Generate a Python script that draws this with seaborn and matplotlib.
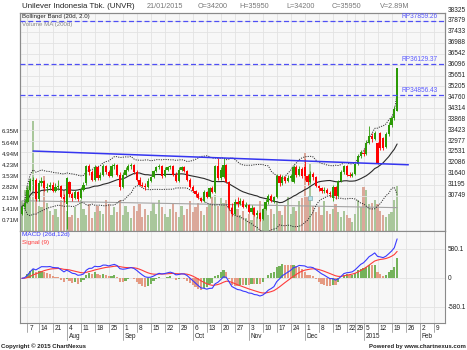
import numpy as np
import pandas as pd
import matplotlib
matplotlib.use("Agg")
import matplotlib.pyplot as plt
import seaborn as sns
from matplotlib.transforms import blended_transform_factory as blend

# ---------------- data ----------------
title = "Unilever Indonesia Tbk. (UNVR)"
start_date = "2014-07-03"
end_date = "2015-02-13"
holidays = ["2014-07-09", "2014-07-28", "2014-07-29", "2014-07-30", "2014-07-31",
            "2014-08-01", "2014-12-25", "2014-12-26", "2014-12-31", "2015-01-01"]

opens = [30000, 30300, 30500, 31000, 31350, 31400, 30600, 31250, 31350, 31050,
         31100, 31200, 30950, 31100, 31150, 30700, 30400, 31300, 30800, 30650,
         30900, 30650, 31000, 31250, 31950, 31700, 31400, 31900, 31450, 31600,
         31950, 31700, 31550, 31950, 32000, 31600, 31100, 31600, 31800, 31950,
         32000, 31700, 31400, 31200, 31150, 31100, 31350, 31500, 31750, 31900,
         31950, 31550, 31800, 31900, 31950, 31600, 31350, 31800, 31900, 31750,
         31400, 31100, 30950, 30800, 30650, 30550, 30900, 30700, 31050, 30900,
         31950, 31450, 31500, 32000, 31300, 30250, 30000, 30500, 30400, 30550,
         30300, 30350, 30100, 30250, 29950, 30050, 29800, 30200, 30500, 30750,
         30550, 30700, 31550, 31250, 31500, 31350, 31450, 31300, 31900, 31600,
         31850, 31900, 31550, 31300, 31650, 31500, 31150, 31050, 30950, 31000,
         30850, 30650, 31100, 30750, 31350, 31700, 31950, 31600, 31550, 31650,
         32050, 32350, 32500, 32450, 32900, 33200, 33050, 32900, 33300, 33100,
         32750, 33250, 33650, 33900, 34200]
highs = [30350, 30600, 31100, 31450, 31500, 31450, 31400, 31500, 31400, 31250,
         31300, 31300, 31250, 31400, 31200, 30800, 31500, 31350, 30900, 31000,
         30950, 31100, 31300, 32000, 32050, 31800, 32000, 31950, 31700, 32050,
         32000, 31800, 32050, 32100, 32050, 31700, 31700, 31900, 32050, 32100,
         32050, 31800, 31500, 31300, 31250, 31450, 31550, 31800, 31950, 32050,
         32000, 31900, 31950, 32000, 32000, 31700, 31900, 31950, 31950, 31800,
         31450, 31200, 31000, 30900, 30700, 31000, 30950, 31100, 31150, 32000,
         32300, 31900, 32300, 32050, 31350, 30450, 30600, 30700, 30650, 30600,
         30500, 30400, 30350, 30300, 30150, 30100, 30250, 30600, 30800, 30800,
         30750, 31650, 31650, 31600, 31550, 31600, 31650, 32000, 32000, 31950,
         31900, 32250, 31650, 31750, 31700, 31550, 31200, 31100, 31100, 31050,
         30950, 31200, 31150, 31400, 31800, 32000, 32000, 31700, 31700, 32100,
         32450, 32600, 32650, 33000, 33600, 33300, 33400, 32950, 33350, 33150,
         33350, 33750, 34000, 34400, 35950]
lows = [29950, 30200, 30450, 30950, 31000, 30550, 30550, 31150, 30950, 30900,
        31000, 30900, 30900, 31000, 30650, 30500, 29400, 30700, 30550, 30600,
        30550, 30600, 30950, 31200, 31600, 31350, 31350, 31400, 31400, 31550,
        31650, 31500, 31500, 31850, 31550, 31000, 31050, 31550, 31750, 31850,
        31650, 31350, 31150, 31100, 31000, 31050, 31300, 31450, 31700, 31850,
        31450, 31500, 31750, 31850, 31550, 31300, 31300, 31750, 31700, 31350,
        31050, 30900, 30700, 30600, 30500, 30500, 30650, 30650, 30850, 30850,
        31400, 31400, 31450, 31250, 30150, 29900, 29950, 30300, 30350, 30250,
        30250, 30050, 30000, 29900, 29850, 29700, 29750, 30150, 30400, 30500,
        30450, 30650, 31150, 31200, 31250, 31300, 31350, 31250, 31500, 31550,
        31450, 31400, 31200, 31250, 31400, 31100, 30950, 30850, 30850, 30800,
        30700, 30550, 30600, 30700, 31300, 31650, 31550, 31500, 31500, 31600,
        32000, 32300, 32350, 32400, 32850, 32950, 33000, 32050, 32600, 32600,
        32700, 33200, 33550, 33850, 34200]
closes = [30300, 30450, 31000, 31350, 31400, 30600, 31250, 31350, 31050, 31100,
          31200, 30950, 31100, 31150, 30700, 30600, 31450, 30800, 30650, 30900,
          30600, 31000, 31200, 31950, 31700, 31400, 31900, 31450, 31600, 31950,
          31700, 31550, 31950, 32000, 31600, 31100, 31600, 31800, 31950, 32000,
          31700, 31400, 31200, 31150, 31100, 31350, 31500, 31750, 31900, 31950,
          31550, 31800, 31900, 31950, 31600, 31350, 31800, 31900, 31750, 31400,
          31100, 30950, 30800, 30650, 30550, 30900, 30700, 31050, 30900, 31950,
          31450, 31800, 32000, 31300, 30250, 30000, 30500, 30400, 30550, 30300,
          30350, 30100, 30250, 29950, 30050, 29800, 30200, 30500, 30750, 30550,
          30700, 31550, 31250, 31500, 31350, 31450, 31550, 31900, 31600, 31850,
          31550, 31550, 31300, 31650, 31500, 31150, 31050, 30950, 31000, 30850,
          30800, 31100, 30750, 31350, 31700, 31950, 31600, 31550, 31650, 32050,
          32350, 32550, 32450, 32900, 33200, 33050, 33300, 32100, 32700, 32700,
          33250, 33650, 33900, 34300, 35950]
volumes_m = [1.9, 2.6, 2.9, 3.3, 7.0, 2.2, 1.6, 1.5, 3.5, 1.8,
             1.3, 1.0, 1.4, 0.9, 2.0, 2.6, 1.3, 0.9, 1.0, 1.5,
             0.8, 2.0, 1.4, 1.0, 1.7, 0.8, 1.2, 1.6, 1.3, 1.1,
             2.0, 1.7, 1.0, 1.5, 1.2, 2.0, 1.0, 1.6, 1.2, 0.8,
             1.6, 1.3, 1.7, 0.9, 1.4, 1.0, 1.3, 1.8, 1.1, 2.0,
             1.5, 1.1, 0.9, 1.4, 1.7, 1.2, 0.9, 1.6, 1.0, 1.4,
             1.9, 1.2, 1.5, 1.8, 1.3, 1.0, 1.5, 1.7, 2.2, 2.3,
             1.6, 2.1, 1.8, 2.0, 1.9, 1.5, 1.2, 1.4, 1.0, 1.3,
             0.8, 1.1, 0.7, 1.5, 0.9, 1.9, 1.2, 1.6, 1.0, 1.4,
             1.1, 1.9, 1.3, 1.0, 1.6, 2.2, 1.1, 1.5, 1.3, 1.9,
             2.1, 5.0, 2.2, 4.3, 1.6, 1.2, 1.5, 1.0, 1.9, 1.3,
             1.1, 1.4, 1.7, 1.2, 0.9, 1.3, 1.0, 0.8, 0.6, 1.1,
             2.0, 1.5, 2.8, 2.6, 1.7, 1.8, 2.0, 1.7, 1.3, 1.0,
             0.9, 1.1, 1.2, 2.0, 2.89]
vol_ma200_m = [1.93, 1.49]
levels = [37859.26, 36129.37, 34856.43]
trend_dates = ["2014-07-10", "2015-01-27"]
trend_prices = [32570, 32010]
marker_date = "2014-12-03"
marker_price = 30650
price_ticks = [38325, 37879, 37433, 36988, 36542, 36096, 35651, 35205, 34760,
               34314, 33868, 33423, 32977, 32531, 32086, 31640, 31195, 30749]
volume_ticks_m = [0.71, 1.41, 2.12, 2.82, 3.53, 4.23, 4.94, 5.64, 6.35]
macd_ticks = [580.1, 0.0, -580.1]

# ---------------- derived ----------------
all_days = pd.bdate_range(start_date, end_date)
all_days = all_days[~all_days.isin(pd.to_datetime(holidays))]
pos = {d: i for i, d in enumerate(all_days)}
n = len(closes)
x = np.arange(n)
o = np.array(opens, float); h = np.array(highs, float)
l = np.array(lows, float); c = np.array(closes, float)
vol = np.array(volumes_m) * 1e6
up = c >= o

cs = pd.Series(c)
mid = cs.rolling(20, min_periods=1).mean()
sd = cs.rolling(20, min_periods=1).std(ddof=0).fillna(0)
upper = mid + 2 * sd
lower = mid - 2 * sd
ema12 = cs.ewm(span=12, adjust=False).mean()
ema26 = cs.ewm(span=26, adjust=False).mean()
macd = ema12 - ema26
signal = macd.ewm(span=9, adjust=False).mean()
hist = macd - signal
hist_up = np.r_[True, np.diff(hist.values) >= 0]

# ---------------- style ----------------
sns.set_theme(style="white")
plt.rcParams["font.family"] = ["Liberation Sans", "DejaVu Sans"]
W, H = 467, 350
GREEN, RED = "#2b9a05", "#ff0000"
VGREEN, VRED = "#a9c79b", "#dba89a"
FACE = "#f7f7f7"
GRID = "#e2e2e2"
SPINE = "#8a8a8a"
fs = 4.7
BW = 0.8

fig = plt.figure(figsize=(W / 100, H / 100), dpi=100)
fig.patch.set_facecolor("white")
L, R = 20.3 / W, 445 / W
ax_v = fig.add_axes([L, 1 - 231 / H, R - L, (231 - 12.7) / H])
ax = ax_v.twinx()
ax_m = fig.add_axes([L, 1 - 323.3 / H, R - L, (323.3 - 231) / H])

xlim = (-0.57, 151.1)
for a in (ax_v, ax, ax_m):
    a.set_xlim(*xlim)
    for s in a.spines.values():
        s.set_color(SPINE)
        s.set_linewidth(0.8)
ax_v.set_facecolor(FACE)
ax_m.set_facecolor(FACE)

# week ticks (Mondays)
mondays = [d for d in all_days if d.weekday() == 0]
tick_x = [pos[d] for d in mondays]
for a in (ax_v, ax_m):
    a.set_xticks(tick_x)
    a.set_xticklabels([])
    a.tick_params(axis="x", length=0)
    a.grid(axis="x", color=GRID, lw=0.6)
    a.set_axisbelow(True)

# ---- volume ----
ax_v.set_ylim(0, 13.93e6)
ax_v.bar(x, vol, width=BW, color=np.where(up, VGREEN, VRED), linewidth=0, zorder=1)
sns.lineplot(x=[0, n - 1], y=np.array(vol_ma200_m) * 1e6, ax=ax_v, color="#a3a3a3", lw=0.8, zorder=2)
ax_v.set_yticks(np.array(volume_ticks_m) * 1e6)
ax_v.set_yticklabels([f"{v:.2f}M" for v in volume_ticks_m])
ax_v.tick_params(axis="y", labelsize=4.4, length=0, pad=1.0, colors="#222222")
ax_v.set_ylabel(""); ax_v.set_xlabel("")

# ---- price ----
ax.set_ylim(29307, 38215)
in_range = [t for t in price_ticks if 29307 < t < 38215]
ax.set_yticks(in_range)
ax.set_yticklabels([])
ax.tick_params(axis="y", length=0)
ax.grid(axis="y", color=GRID, lw=0.6)
ax.set_axisbelow(True)
ty = blend(ax.transAxes, ax.transData)
for t in price_ticks:
    ax.text(1.006, t, str(t), transform=ty, fontsize=fs, ha="left", va="center",
            color="#222222", clip_on=False)

sns.lineplot(x=x, y=upper, ax=ax, color="#333333", lw=0.7, linestyle=(0, (1.2, 1.2)), zorder=3)
sns.lineplot(x=x, y=lower, ax=ax, color="#333333", lw=0.7, linestyle=(0, (1.2, 1.2)), zorder=3)
sns.lineplot(x=x, y=mid, ax=ax, color="#2a2a2a", lw=0.8, zorder=3)

col = np.where(up, GREEN, RED)
ax.vlines(x, l, h, colors=col, lw=0.6, zorder=4)
body = np.maximum(np.abs(c - o), 25)
ax.bar(x, body, bottom=np.minimum(o, c), width=BW, color=col, linewidth=0, zorder=5)

tx = [pos[pd.Timestamp(d)] for d in trend_dates]
sns.lineplot(x=tx, y=trend_prices, ax=ax, color="#3535f0", lw=1.1, zorder=6)

for lv in levels:
    ax.axhline(lv, color="#4f4ff5", lw=0.9, ls=(0, (4, 2.2)), zorder=6)
    ax.annotate(f"RP{lv:.2f}", xy=(0.983, lv), xycoords=ty, xytext=(0, 3.3),
                textcoords="offset points", ha="right", va="center",
                fontsize=fs, color="#5a5aff")

ax.scatter([pos[pd.Timestamp(marker_date)]], [marker_price], marker="s", s=12,
           color="#b4e2ea", edgecolor="#86aab2", linewidth=0.5, zorder=7)
ax.set_ylabel(""); ax.set_xlabel("")

ax.text(0.004, 0.994, "Bollinger Band (20d, 2.0)", transform=ax.transAxes, fontsize=4.4,
        ha="left", va="top", color="#222222")
ax.text(0.004, 0.958, "Volume MA (200d)", transform=ax.transAxes, fontsize=4.4,
        ha="left", va="top", color="#888888")

# ---- MACD ----
ax_m.set_ylim(-900, 946)
ax_m.bar(x, hist * 1.6, width=BW, color=np.where(hist_up, "#74b25a", "#e59a82"),
         linewidth=0, zorder=1)
sns.lineplot(x=x, y=signal, ax=ax_m, color="#ff3b3b", lw=0.8, zorder=3)
sns.lineplot(x=x, y=macd, ax=ax_m, color="#3a3aff", lw=0.8, zorder=4)
ax_m.set_yticks(macd_ticks)
ax_m.set_yticklabels([])
ax_m.tick_params(axis="y", length=0)
ax_m.grid(axis="y", color=GRID, lw=0.6)
tm = blend(ax_m.transAxes, ax_m.transData)
for t in macd_ticks:
    ax_m.text(1.006, t, f"{t:g}" if t != 0 else "0", transform=tm, fontsize=fs,
              ha="left", va="center", color="#222222", clip_on=False)
ax_m.set_ylabel(""); ax_m.set_xlabel("")
ax_m.text(0.004, 0.985, "MACD (26d,12d)", transform=ax_m.transAxes, fontsize=4.6,
          ha="left", va="top", color="#3a3aff")
ax_m.text(0.004, 0.905, "Signal (9)", transform=ax_m.transAxes, fontsize=4.6,
          ha="left", va="top", color="#ff3b3b")

# ---- x labels ----
tb = blend(ax_m.transData, fig.transFigure)
prev_month = None
for d in mondays:
    xi = pos[d]
    new_month = prev_month is not None and d.month != prev_month
    y_end = 1 - (340 if new_month else 332) / H
    ax_m.plot([xi, xi], [1 - 323.3 / H, y_end], transform=tb, color="#9a9a9a",
              lw=0.6, clip_on=False)
    ax_m.text(xi + 0.7, 1 - 329 / H, str(d.day), transform=tb, fontsize=fs,
              ha="left", va="center", color="#222222")
    if new_month:
        lab = str(d.year) if d.month == 1 else d.strftime("%b")
        ax_m.text(xi + 0.7, 1 - 336.7 / H, lab, transform=tb, fontsize=fs,
                  ha="left", va="center", color="#222222")
    prev_month = d.month

# ---- header / footer ----
last = n - 1
fig.text(21.5 / W, 1 - 6.5 / H, title, fontsize=5.7, ha="left", va="center", color="#222222")
info = [(147, all_days[last].strftime("%d/%m/%Y")),
        (198, f"O={opens[last]}"), (239, f"H={highs[last]}"),
        (286, f"L={lows[last]}"), (332, f"C={closes[last]}"),
        (380, f"V={volumes_m[last]:.2f}M")]
for px, s in info:
    fig.text(px / W, 1 - 6.5 / H, s, fontsize=5.2, ha="left", va="center", color="#777777")
fig.text(1 / W, 1 - 346.5 / H, "Copyright © 2015 ChartNexus", fontsize=4.3,
         fontweight="bold", ha="left", va="center", color="#222222")
fig.text(466 / W, 1 - 346.5 / H, "Powered by www.chartnexus.com", fontsize=4.3,
         fontweight="bold", ha="right", va="center", color="#222222")

fig.savefig("out.png", dpi=100)
